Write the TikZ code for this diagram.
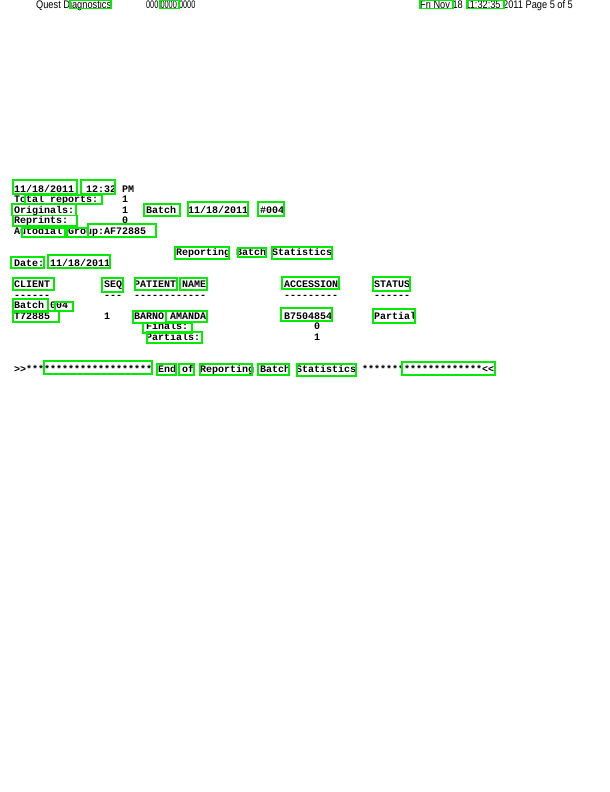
\documentclass[tikz,border=0pt]{standalone}
\usepackage{fontspec}
\setmonofont{Liberation Mono}
\setsansfont{Liberation Sans}
\usetikzlibrary{positioning}
\definecolor{ocrgreen}{RGB}{0,235,0}
\tikzset{font=\small}

\begin{document}
\begin{tikzpicture}[x=1bp, y=-1bp]
	\useasboundingbox (0,0) rectangle (610,792);
	\begin{scope}
		\tikzstyle{every node}=[anchor=base west, inner sep=0pt]
		\tikzstyle{hdr}=[font=\sffamily\fontsize{11bp}{12bp}\selectfont, xscale=0.84]
		\tikzstyle{rep}=[font=\ttfamily\bfseries\fontsize{10bp}{12bp}\selectfont]
		\tikzstyle{ocr}=[draw=ocrgreen, line width=1.8bp]

		% page header
		\node[hdr] (lab) at (36, 8.5) {Quest Diagnostics};
		\node[hdr, xscale=0.8] (tel) at (146, 8.5) {000 0000 0000};
		\node[hdr] (page) at (420, 8.5) {Fri Nov 18 11:32:35 2011 Page 5 of 5};

		% batch summary
		\node[rep] (date) at (14, 192) {11/18/2011};
		\node[rep] (time) at (86, 192) {12:32 PM};
		\node[rep] (tot) at (14, 202.6) {Total reports:};
		\node[rep] (totn) at (122, 202.6) {1};
		\node[rep] (orig) at (14, 213.2) {Originals:};
		\node[rep] (orign) at (122, 213.2) {1};
		\node[rep] (batch) at (146, 213.2) {Batch};
		\node[rep] (bdate) at (188, 213.2) {11/18/2011};
		\node[rep] (bno) at (260, 213.2) {\#004};
		\node[rep] (repr) at (14, 223.8) {Reprints:};
		\node[rep] (reprn) at (122, 223.8) {0};
		\node[rep] (auto) at (14, 234.4) {Autodial Group:AF72885};

		\node[rep] (title) at (176, 255.6) {Reporting Batch Statistics};
		\node[rep] (rdate) at (14, 266.2) {Date: 11/18/2011};

		% table
		\node[rep] (client) at (14, 287.4) {CLIENT};
		\node[rep] (seq) at (104, 287.4) {SEQ};
		\node[rep] (pat) at (134, 287.4) {PATIENT NAME};
		\node[rep] (acc) at (284, 287.4) {ACCESSION};
		\node[rep] (stat) at (374, 287.4) {STATUS};

		\node[rep] (client-) at (14, 298) {------};
		\node[rep] (seq-) at (104, 298) {---};
		\node[rep] (pat-) at (134, 298) {------------};
		\node[rep] (acc-) at (284, 298) {---------};
		\node[rep] (stat-) at (374, 298) {------};

		\node[rep] (grp) at (14, 308.6) {Batch 004};
		\node[rep] (cl1) at (14, 319.2) {T72885};
		\node[rep] (seq1) at (104, 319.2) {1};
		\node[rep] (pat1) at (134, 319.2) {BARNO AMANDA};
		\node[rep] (acc1) at (284, 319.2) {B7504854};
		\node[rep] (stat1) at (374, 319.2) {Partial};

		\node[rep] (fin) at (146, 329.8) {Finals:};
		\node[rep] (finn) at (314, 329.8) {0};
		\node[rep] (part) at (146, 340.4) {Partials:};
		\node[rep] (partn) at (314, 340.4) {1};

		\node[rep] (end) at (14, 372.2) {>>********************* End of Reporting Batch Statistics ********************<<};

		% recognition boxes
		\draw[ocr] (70,0.5) rectangle (111,8.5);
		\draw[ocr] (160,0.5) rectangle (179,8.5);
		\draw[ocr] (420,0.5) rectangle (453,8.5);
		\draw[ocr] (467,0.5) rectangle (504,8.5);

		\draw[ocr] (13,180) rectangle (77,194);
		\draw[ocr] (81,180) rectangle (115,194);
		\draw[ocr] (25,195) rectangle (102,204);
		\draw[ocr] (12,204) rectangle (76,215.5);
		\draw[ocr] (13,215.5) rectangle (77,226);
		\draw[ocr] (22,228) rectangle (65,237);
		\draw[ocr] (67,228) rectangle (88,237);
		\draw[ocr] (88,224) rectangle (156,237);
		\draw[ocr] (144,204) rectangle (180,216);
		\draw[ocr] (188,202) rectangle (248,216);
		\draw[ocr] (258,202) rectangle (284,216);

		\draw[ocr] (175,247) rectangle (229,259);
		\draw[ocr] (238,248) rectangle (266,257);
		\draw[ocr] (272,247) rectangle (332,259);
		\draw[ocr] (11,257) rectangle (44,268);
		\draw[ocr] (48,255) rectangle (110,268);

		\draw[ocr] (13,278) rectangle (54,290);
		\draw[ocr] (102,278) rectangle (123,292);
		\draw[ocr] (135,278) rectangle (177,290);
		\draw[ocr] (180,278) rectangle (207,290);
		\draw[ocr] (282,277) rectangle (339,289);
		\draw[ocr] (373,277) rectangle (410,291);

		\draw[ocr] (13,299) rectangle (48,312);
		\draw[ocr] (55,302) rectangle (73,311);
		\draw[ocr] (13,311) rectangle (59,322);
		\draw[ocr] (133,311) rectangle (166,323);
		\draw[ocr] (166,311) rectangle (207,322);
		\draw[ocr] (143,323) rectangle (192,333);
		\draw[ocr] (147,332) rectangle (202,343);
		\draw[ocr] (281,308) rectangle (332,321);
		\draw[ocr] (373,309) rectangle (415,323);

		\draw[ocr] (44,361) rectangle (152,374);
		\draw[ocr] (157,364) rectangle (176,375);
		\draw[ocr] (179,364) rectangle (194,375);
		\draw[ocr] (200,364) rectangle (252,375);
		\draw[ocr] (258,364) rectangle (289,375);
		\draw[ocr] (297,364) rectangle (356,376);
		\draw[ocr] (402,362) rectangle (495,375);
	\end{scope}
\end{tikzpicture}
\end{document}
